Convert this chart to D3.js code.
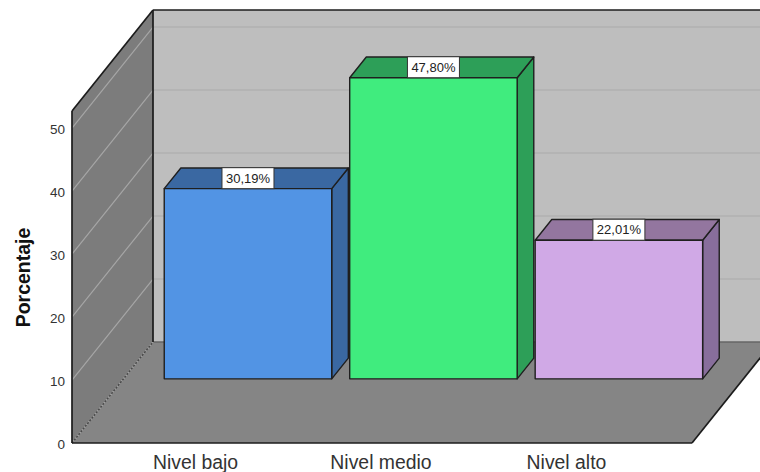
<!DOCTYPE html>
<html><head><meta charset="utf-8">
<script src="https://cdnjs.cloudflare.com/ajax/libs/d3/7.8.5/d3.min.js"></script>
<style>html,body{margin:0;padding:0;background:#fff}svg{display:block}</style>
</head><body><div id="c"></div>
<script>
const categories = ["Nivel bajo", "Nivel medio", "Nivel alto"];
const percentages = [30.19, 47.80, 22.01];
const valueLabels = ["30,19%", "47,80%", "22,01%"];
const yTicks = [0, 10, 20, 30, 40, 50];
const frontColors = ["#5294e4", "#40ec7e", "#d0a9e6"];
const topColors = ["#3a68a2", "#2d9f58", "#93769f"];
const sideColors = ["#3a68a2", "#2d9f58", "#886e9c"];
const yAxisTitle = "Porcentaje";
const yMax = 52.7;

const W = 760, H = 472;
const svg = d3.select("#c").append("svg").attr("width", W).attr("height", H)
  .style("font-family", "'Liberation Sans',Arial,sans-serif");

const y = d3.scaleLinear().domain([0, yMax]).range([443, 111]);
const xFront = d3.scaleLinear().domain([0, 1]).range([72, 692]);
// depth: 0 = front of the box, 1 = back wall
const dx = d3.scaleLinear().domain([0, 1]).range([0, 81]);
const dy = d3.scaleLinear().domain([0, 1]).range([0, -101]);
const P = (u, v, d) => [xFront(u) + dx(d), y(v) + dy(d)];
const poly = pts => pts.map(p => p.join(",")).join(" ");

const band = d3.scaleBand().domain(categories).range([0, 1]).paddingInner(0.097).paddingOuter(0.22);
const barD0 = 0.635, barD1 = 0.84;

// floor
svg.append("polygon").attr("points", poly([P(0,0,0), P(1,0,0), P(1,0,1), P(0,0,1)]))
  .attr("fill", "#858585");
// back wall
svg.append("polygon").attr("points", poly([P(0,0,1), P(1.2,0,1), P(1.2,yMax,1), P(0,yMax,1)]))
  .attr("fill", "#bebebe");
// left wall
svg.append("polygon").attr("points", poly([P(0,0,0), P(0,0,1), P(0,yMax,1), P(0,yMax,0)]))
  .attr("fill", "#7c7c7c");

// gridlines
const gridTicks = yTicks.filter(t => t > 0);
svg.append("g").selectAll("line").data(gridTicks).join("line")
  .attr("x1", d => P(0,d,1)[0]).attr("y1", d => P(0,d,1)[1])
  .attr("x2", W + 10).attr("y2", d => P(0,d,1)[1])
  .attr("stroke", "#b1b1b1").attr("stroke-width", 1.5);
svg.append("g").selectAll("line").data(gridTicks).join("line")
  .attr("x1", d => P(0,d,0)[0]).attr("y1", d => P(0,d,0)[1])
  .attr("x2", d => P(0,d,1)[0]).attr("y2", d => P(0,d,1)[1])
  .attr("stroke", "#a6a6a6").attr("stroke-width", 1.2);

// box edges
svg.append("line").attr("x1", P(0,0,1)[0]).attr("y1", P(0,0,1)[1]).attr("x2", P(1.2,0,1)[0]).attr("y2", P(1.2,0,1)[1])
  .attr("stroke", "#666").attr("stroke-width", 1.5);
svg.append("line").attr("x1", P(0,0,0)[0]).attr("y1", P(0,0,0)[1]).attr("x2", P(0,0,1)[0]).attr("y2", P(0,0,1)[1])
  .attr("stroke", "#a0a0a0").attr("stroke-width", 1.6);
svg.append("line").attr("x1", P(0,0,0)[0]).attr("y1", P(0,0,0)[1]).attr("x2", P(0,0,1)[0]).attr("y2", P(0,0,1)[1])
  .attr("stroke", "#4a4a4a").attr("stroke-width", 1.6).attr("stroke-dasharray", "2 1.5");
const edges = [
  [P(0,0,0), P(1,0,0)], [P(1,0,0), P(1,0,1)], [P(0,0,0), P(0,yMax,0)],
  [P(0,yMax,0), P(0,yMax,1)], [P(0,yMax,1), P(0,0,1)], [P(0,yMax,1), P(1.2,yMax,1)]
];
svg.append("g").selectAll("line").data(edges).join("line")
  .attr("x1", d => d[0][0]).attr("y1", d => d[0][1])
  .attr("x2", d => d[1][0]).attr("y2", d => d[1][1])
  .attr("stroke", "#1c1c1c").attr("stroke-width", 1.7);

// bars
const rows = categories.map((c, i) => ({c, v: percentages[i], i}));
const bars = svg.append("g").selectAll("g").data(rows).join("g")
  .attr("stroke", "#1f1f1f").attr("stroke-width", 1.4).attr("stroke-linejoin", "round");
const L = d => band(d.c), R = d => band(d.c) + band.bandwidth();
bars.append("polygon").attr("fill", d => sideColors[d.i])
  .attr("points", d => poly([P(R(d),0,barD0), P(R(d),0,barD1), P(R(d),d.v,barD1), P(R(d),d.v,barD0)]));
bars.append("polygon").attr("fill", d => topColors[d.i])
  .attr("points", d => poly([P(L(d),d.v,barD0), P(R(d),d.v,barD0), P(R(d),d.v,barD1), P(L(d),d.v,barD1)]));
bars.append("polygon").attr("fill", d => frontColors[d.i])
  .attr("points", d => poly([P(L(d),0,barD0), P(R(d),0,barD0), P(R(d),d.v,barD0), P(L(d),d.v,barD0)]));

// value labels
const labels = svg.append("g").selectAll("g").data(rows).join("g")
  .attr("transform", d => {
    const p = P((L(d)+R(d))/2, d.v, barD0);
    return `translate(${p[0]},${p[1]})`;
  });
labels.append("rect").attr("x", -26).attr("y", -21).attr("width", 52).attr("height", 21)
  .attr("fill", "#fff").attr("stroke", "#333").attr("stroke-width", 1);
labels.append("text").attr("y", -6).attr("text-anchor", "middle")
  .attr("font-size", 13).attr("fill", "#222").text(d => valueLabels[d.i]);

// y axis
const yAxis = svg.append("g").attr("transform", "translate(72,1.5)")
  .call(d3.axisLeft(y).tickValues(yTicks).tickSize(0).tickPadding(7));
yAxis.select(".domain").remove();
yAxis.selectAll("text").attr("font-size", 13.5).attr("font-family", "'Liberation Sans',Arial,sans-serif").attr("fill", "#333");

// y title
svg.append("text").attr("transform", "translate(30,277.5) rotate(-90)")
  .attr("text-anchor", "middle").attr("font-size", 19.5).attr("font-weight", "bold").attr("fill", "#111")
  .text(yAxisTitle);

// category labels
svg.append("g").selectAll("text").data(rows).join("text")
  .attr("x", d => xFront((L(d)+R(d))/2) - 1).attr("y", 469)
  .attr("text-anchor", "middle").attr("font-size", 19.4).attr("fill", "#333")
  .text(d => d.c);
</script></body></html>
